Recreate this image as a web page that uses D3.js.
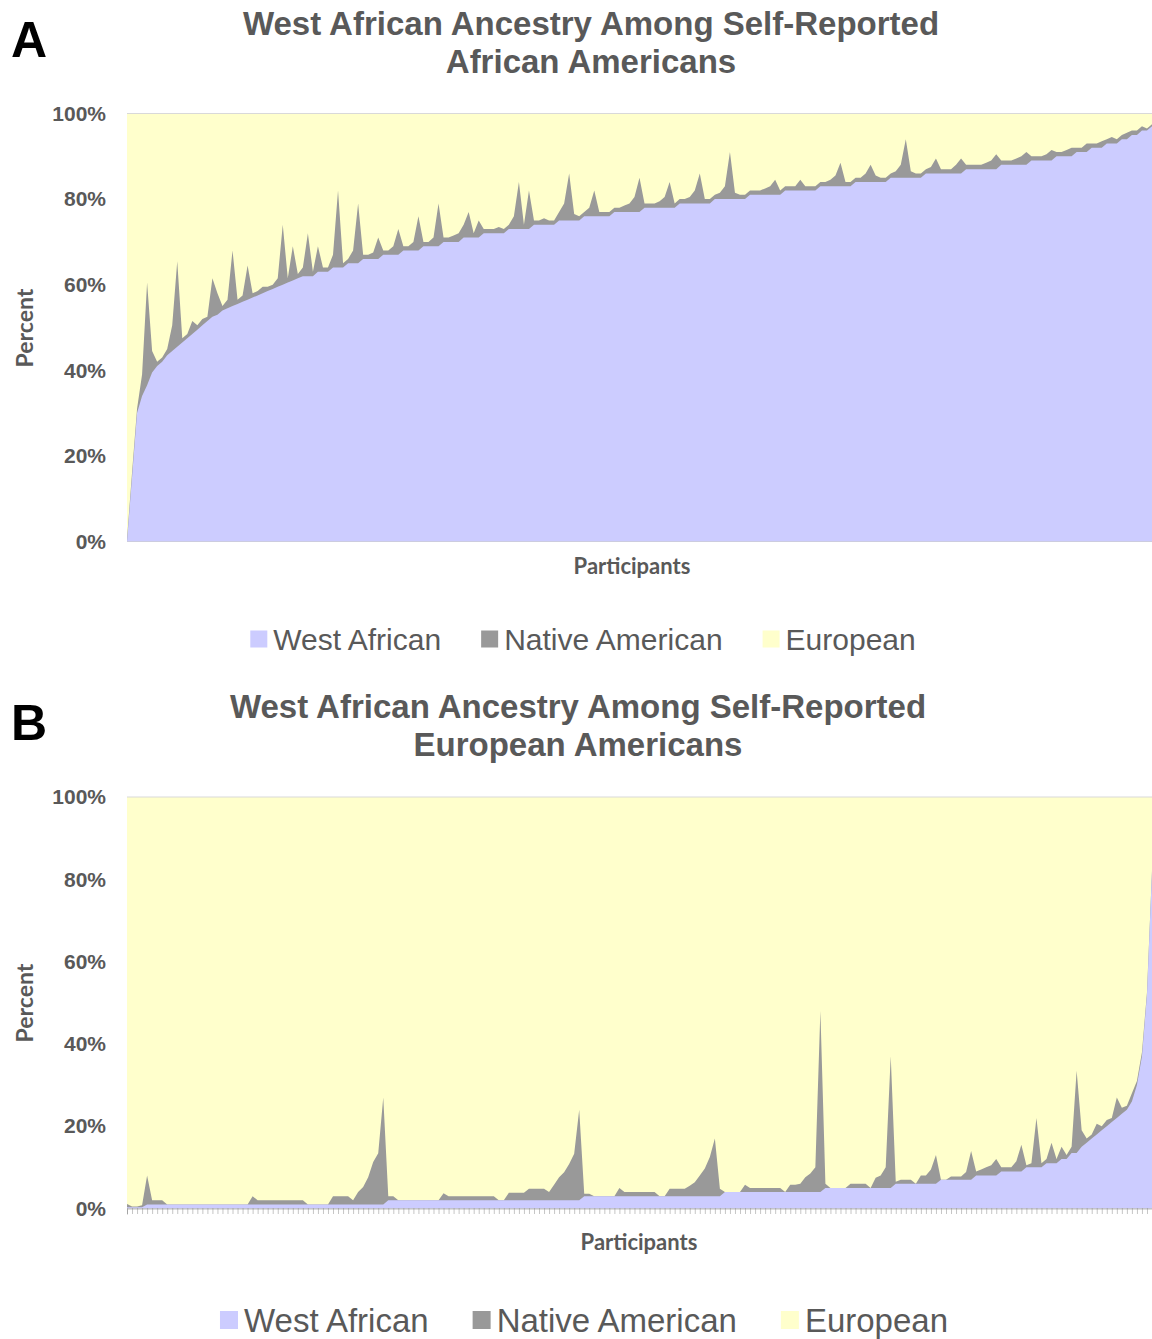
<!DOCTYPE html>
<html>
<head>
<meta charset="utf-8">
<script src="https://cdn.jsdelivr.net/npm/d3@7"></script>
<style>
  body { margin: 0; background: #fff; }
  svg text { font-family: "Liberation Sans", Arial, sans-serif; }
</style>
</head>
<body>
<div id="container"></div>
<script>
/* CONSTANTS AND GLOBALS */
const width = 1152;
const height = 1339;
const plotLeft = 127;
const plotRight = 1152;
const textColor = "#595959";

/* DATA */
const series = ["West African", "Native American", "European"];
const colors = ["#ccccff", "#999999", "#ffffcc"];
const yTicks = [0, 20, 40, 60, 80, 100];

// panel A - self-reported African Americans, one value per participant (sorted)
const westAfricanA = [
  0, 15, 30, 34, 36.5, 39.5, 41, 42, 43.5, 44.5,
  45.5, 46.5, 47.5, 48.5, 49.5, 50.5, 51.5, 52.5, 53, 54,
  54.5, 55, 55.5, 56, 56.5, 57, 57.5, 58, 58.5, 59,
  59.5, 60, 60.5, 61, 61.5, 62, 62, 62, 63, 63,
  63, 64, 64, 64, 65, 65, 65, 66, 66, 66,
  66, 67, 67, 67, 67, 68, 68, 68, 68, 69,
  69, 69, 69, 70, 70, 70, 70, 71, 71, 71,
  71, 72, 72, 72, 72, 72, 73, 73, 73, 73,
  73, 74, 74, 74, 74, 74, 75, 75, 75, 75,
  75, 76, 76, 76, 76, 76, 76, 77, 77, 77,
  77, 77, 77, 78, 78, 78, 78, 78, 78, 78,
  79, 79, 79, 79, 79, 79, 79, 80, 80, 80,
  80, 80, 80, 80, 81, 81, 81, 81, 81, 81,
  81, 82, 82, 82, 82, 82, 82, 82, 83, 83,
  83, 83, 83, 83, 83, 84, 84, 84, 84, 84,
  84, 84, 85, 85, 85, 85, 85, 85, 85, 86,
  86, 86, 86, 86, 86, 86, 86, 87, 87, 87,
  87, 87, 87, 87, 88, 88, 88, 88, 88, 88,
  89, 89, 89, 89, 89, 90, 90, 90, 90, 91,
  91, 91, 92, 92, 92, 93, 93, 93, 94, 94,
  95, 95, 96, 96, 97
];
const nativeAmericanA = [
  0.5, 1, 1, 5, 24, 5, 1, 1, 1.5, 6,
  20, 1, 1, 3, 1, 1.5, 1, 9, 5, 1,
  2, 13, 1, 1.5, 8, 1, 1, 1.5, 1, 1,
  2, 14, 1, 8, 1, 2, 10, 1, 6, 1,
  1, 3, 18, 1, 1, 3, 14, 1, 1, 1.5,
  5, 1, 1, 2, 6, 1, 1, 2, 8, 1,
  1, 2, 10, 1, 1, 1.5, 2, 3, 6, 1,
  4, 1, 1, 1, 1.5, 1, 1, 3, 11, 1,
  9, 1, 1, 1.5, 1, 1, 2, 4, 11, 1.5,
  1, 1, 2, 6, 1, 1, 1, 1, 1, 1.5,
  2, 3.5, 8, 1, 1, 1, 1.5, 2.5, 6, 1,
  1, 1, 1.5, 3, 7, 1, 1, 1, 1.5, 3,
  11, 1.5, 1, 1, 1, 1, 1, 1.5, 2, 3.5,
  1, 1, 1, 1, 2.5, 1, 1, 1, 1, 1,
  1.5, 2.5, 5.5, 1, 1, 1, 1, 2, 4, 1.5,
  1, 1, 1, 1.5, 3, 9, 1.5, 1, 1, 1,
  1.5, 3.5, 1, 1, 1, 2, 3.5, 1, 1, 1,
  1, 1.5, 2, 3.5, 1, 1, 1, 1.5, 2, 3,
  1, 1, 1, 1.5, 2.5, 1, 1, 1.5, 2, 1,
  1, 2, 1, 1, 1.5, 1, 1.5, 1, 1, 1.5,
  1, 1, 1, 0.5, 0.5
];

// panel B - self-reported European Americans
const westAfricanB = [
  0.3, 0.3, 0.3, 0.3, 1, 1, 1, 1, 1, 1,
  1, 1, 1, 1, 1, 1, 1, 1, 1, 1,
  1, 1, 1, 1, 1, 1, 1, 1, 1, 1,
  1, 1, 1, 1, 1, 1, 1, 1, 1, 1,
  1, 1, 1, 1, 1, 1, 1, 1, 1, 1,
  1, 1, 2, 2, 2, 2, 2, 2, 2, 2,
  2, 2, 2, 2, 2, 2, 2, 2, 2, 2,
  2, 2, 2, 2, 2, 2, 2, 2, 2, 2,
  2, 2, 2, 2, 2, 2, 2, 2, 2, 2,
  2, 3, 3, 3, 3, 3, 3, 3, 3, 3,
  3, 3, 3, 3, 3, 3, 3, 3, 3, 3,
  3, 3, 3, 3, 3, 3, 3, 3, 3, 4,
  4, 4, 4, 4, 4, 4, 4, 4, 4, 4,
  4, 4, 4, 4, 4, 4, 4, 4, 4, 5,
  5, 5, 5, 5, 5, 5, 5, 5, 5, 5,
  5, 5, 5, 6, 6, 6, 6, 6, 6, 6,
  6, 6, 7, 7, 7, 7, 7, 7, 7, 8,
  8, 8, 8, 8, 9, 9, 9, 9, 9, 10,
  10, 10, 10, 11, 11, 11, 12, 12, 13.5, 13.5,
  15, 16, 17, 18, 19, 20, 21, 22, 23, 24,
  26, 30, 37, 52, 82
];
const nativeAmericanB = [
  0.8, 0.2, 0.2, 0.5, 7, 1, 1, 1, 0, 0,
  0, 0, 0, 0, 0, 0, 0, 0, 0, 0,
  0, 0, 0, 0, 0, 2, 1, 1, 1, 1,
  1, 1, 1, 1, 1, 1, 0, 0, 0, 0,
  0, 2, 2, 2, 2, 1, 3, 4.2, 6.6, 10.3,
  12.4, 26, 1, 1, 0, 0, 0, 0, 0, 0,
  0, 0, 0, 1.7, 1, 1, 1, 1, 1, 1,
  1, 1, 1, 1, 0, 0, 1.8, 1.8, 1.8, 1.8,
  2.8, 2.8, 2.8, 2.8, 2, 3.8, 5.6, 6.8, 8.8, 11.3,
  22, 0.6, 0.6, 0, 0, 0, 0, 0, 2, 1,
  1, 1, 1, 1, 1, 1, 0, 0, 1.8, 1.8,
  1.8, 1.8, 2.5, 3.4, 5, 6.7, 9.5, 14, 1.8, 0,
  0, 0, 0, 1.8, 1, 1, 1, 1, 1, 1,
  1, 0, 1.8, 1.8, 2, 3.6, 4.5, 6, 44, 1,
  0, 0, 0, 0, 1, 1, 1, 1, 0, 2.5,
  3, 5, 32, 0.5, 1, 1, 1, 0, 2, 2,
  3.5, 7, 0, 0, 0.8, 0.8, 0.8, 1.9, 7, 1,
  1.5, 2, 2.5, 4, 1, 1, 1, 2.5, 6.5, 0.5,
  1, 12, 1, 1, 5, 1, 3, 1, 1.5, 20,
  4, 1, 1, 2.6, 1, 1.5, 1, 5, 1.5, 1,
  2, 1, 1, 0.5, 0
];

/* PANEL LAYOUT */
const panels = [
  {
    letter: "A", letterY: 57,
    title: ["West African Ancestry Among Self-Reported", "African Americans"],
    titleX: 591, titleY: 35,
    top: 113.5, bottom: 541.5,
    xLabelX: 632, xLabelY: 574, yLabelY: 328,
    legendX: 583, legendY: 639, legendFont: 30, legendBox: 17, legendGap: 40,
    comb: false,
    wa: westAfricanA, na: nativeAmericanA
  },
  {
    letter: "B", letterY: 740,
    title: ["West African Ancestry Among Self-Reported", "European Americans"],
    titleX: 578, titleY: 718,
    top: 797, bottom: 1208.5,
    xLabelX: 639, xLabelY: 1250, yLabelY: 1003,
    legendX: 584, legendY: 1320, legendFont: 33, legendBox: 18, legendGap: 44,
    comb: true,
    wa: westAfricanB, na: nativeAmericanB
  }
];

/* HTML ELEMENTS */
const svg = d3.select("#container")
  .append("svg")
  .attr("width", width)
  .attr("height", height);

panels.forEach(p => {
  const rows = p.wa.map((w, i) => ({
    participant: i,
    "West African": w,
    "Native American": p.na[i],
    "European": 100 - w - p.na[i]
  }));
  const stacked = d3.stack().keys(series)(rows);

  /* SCALES */
  const xScale = d3.scaleLinear()
    .domain([0, rows.length - 1])
    .range([plotLeft, plotRight]);
  const yScale = d3.scaleLinear()
    .domain([0, 100])
    .range([p.bottom, p.top]);

  // cumulative areas drawn from the baseline, top layer first (no seams)
  const area = d3.area()
    .x(d => xScale(d.data.participant))
    .y0(yScale(0))
    .y1(d => yScale(d[1]));

  const g = svg.append("g");
  g.selectAll("path.layer")
    .data(stacked.slice().reverse())
    .join("path")
    .attr("class", "layer")
    .attr("fill", d => colors[d.index])
    .attr("d", area);

  // top gridline
  g.append("line")
    .attr("x1", plotLeft).attr("x2", plotRight)
    .attr("y1", yScale(100)).attr("y2", yScale(100))
    .attr("stroke", "#d9d9d9");

  // y axis
  const yAxis = g.append("g")
    .attr("transform", `translate(${plotLeft},0)`)
    .call(d3.axisLeft(yScale).tickValues(yTicks).tickFormat(d => d + "%").tickSize(0).tickPadding(21));
  yAxis.select(".domain").remove();
  yAxis.selectAll("text")
    .style("font-family", '"Liberation Sans", Arial, sans-serif')
    .style("font-size", "21px")
    .style("font-weight", "bold")
    .attr("fill", textColor);

  // participant ticks (panel B shows a dense row of category labels)
  if (p.comb) {
    const xAxis = g.append("g")
      .attr("transform", `translate(0,${yScale(0)})`)
      .call(d3.axisBottom(xScale).tickValues(d3.range(rows.length)).tickFormat("").tickSize(6));
    xAxis.select(".domain").attr("stroke", "#bbbbbb");
    xAxis.selectAll(".tick line")
      .attr("stroke", "#8c8c8c")
      .attr("stroke-dasharray", "1,1");
  }

  // panel letter
  svg.append("text")
    .attr("x", 11)
    .attr("y", p.letterY)
    .style("font-size", "50px")
    .style("font-weight", "bold")
    .attr("fill", "#000")
    .text(p.letter);

  // title
  p.title.forEach((line, k) => {
    svg.append("text")
      .attr("x", p.titleX)
      .attr("y", p.titleY + k * 38)
      .attr("text-anchor", "middle")
      .style("font-size", "33px")
      .style("font-weight", "bold")
      .attr("fill", textColor)
      .text(line);
  });

  // axis labels
  svg.append("text")
    .attr("x", p.xLabelX)
    .attr("y", p.xLabelY)
    .attr("text-anchor", "middle")
    .style("font-family", "Lato, 'Open Sans', sans-serif")
    .style("font-size", "22px")
    .style("font-weight", "bold")
    .attr("fill", textColor)
    .text("Participants");

  svg.append("text")
    .attr("transform", `translate(33,${p.yLabelY}) rotate(-90)`)
    .attr("text-anchor", "middle")
    .style("font-family", "Lato, 'Open Sans', sans-serif")
    .style("font-size", "23px")
    .style("font-weight", "bold")
    .attr("fill", textColor)
    .text("Percent");

  // legend
  const legend = svg.append("g");
  const items = legend.selectAll("g")
    .data(series)
    .join("g");
  items.append("rect")
    .attr("width", p.legendBox)
    .attr("height", p.legendBox)
    .attr("y", p.legendY - p.legendBox / 2)
    .attr("fill", (d, i) => colors[i]);
  items.append("text")
    .attr("x", p.legendBox + 6)
    .attr("y", p.legendY + p.legendFont * 0.36)
    .style("font-size", p.legendFont + "px")
    .attr("fill", textColor)
    .text(d => d);

  let offset = 0;
  const starts = [];
  items.each(function () {
    const w = p.legendBox + 6 + d3.select(this).select("text").node().getComputedTextLength();
    starts.push(offset);
    offset += w + p.legendGap;
  });
  const total = offset - p.legendGap;
  const start = p.legendX - total / 2;
  items.attr("transform", (d, i) => `translate(${start + starts[i]},0)`);
});
</script>
</body>
</html>
